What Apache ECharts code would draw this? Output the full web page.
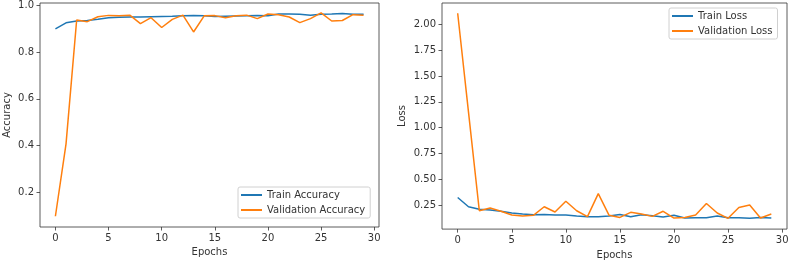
<!DOCTYPE html>
<html>
<head>
<meta charset="utf-8">
<title>Accuracy / Loss</title>
<script src="https://cdn.jsdelivr.net/npm/echarts@6/dist/echarts.min.js"></script>
<style>
  html, body { margin: 0; padding: 0; background: #fff; }
  #chart { width: 792px; height: 265px; }
</style>
</head>
<body>
<div id="chart"></div>
<script>
// epochs 0..29
var epochs = [];
for (var i = 0; i < 30; i++) epochs.push(i);

var trainAcc = [0.899, 0.925, 0.933, 0.935, 0.940, 0.947, 0.949, 0.950, 0.950, 0.951,
                0.952, 0.953, 0.955, 0.957, 0.955, 0.952, 0.953, 0.954, 0.955, 0.956,
                0.955, 0.963, 0.963, 0.962, 0.958, 0.962, 0.963, 0.965, 0.962, 0.962];
var valAcc   = [0.097, 0.407, 0.937, 0.930, 0.951, 0.957, 0.955, 0.958, 0.922, 0.947,
                0.905, 0.940, 0.958, 0.886, 0.955, 0.956, 0.947, 0.955, 0.958, 0.943,
                0.963, 0.960, 0.950, 0.926, 0.943, 0.968, 0.933, 0.935, 0.960, 0.958];
var trainLoss = [0.326, 0.237, 0.212, 0.206, 0.193, 0.176, 0.167, 0.160, 0.163, 0.157,
                 0.157, 0.148, 0.141, 0.141, 0.148, 0.163, 0.141, 0.160, 0.150, 0.138,
                 0.154, 0.128, 0.131, 0.131, 0.147, 0.131, 0.131, 0.125, 0.134, 0.128];
var valLoss   = [2.105, 1.150, 0.198, 0.224, 0.193, 0.157, 0.148, 0.154, 0.237, 0.186,
                 0.290, 0.198, 0.141, 0.364, 0.154, 0.134, 0.183, 0.167, 0.144, 0.193,
                 0.128, 0.134, 0.157, 0.268, 0.176, 0.125, 0.230, 0.253, 0.128, 0.167];

var epochTicks = [0, 5, 10, 15, 20, 25, 30];
var accTicks = [0.2, 0.4, 0.6, 0.8, 1.0];
var lossTicks = [0.25, 0.5, 0.75, 1.0, 1.25, 1.5, 1.75, 2.0];

var BLUE = '#1f77b4', ORANGE = '#ff7f0e', INK = '#333';
var FONT = 'DejaVu Sans';

function pairs(ys) {
    return ys.map(function (y, i) { return [epochs[i], y]; });
}

function xAxisCfg(idx) {
    return {
        type: 'value', gridIndex: idx, min: -1.45, max: 30.45,
        name: 'Epochs', nameLocation: 'middle', nameGap: 20,
        nameTextStyle: { color: INK, fontSize: 10, fontFamily: FONT },
        axisLine: { show: false, onZero: false },
        splitLine: { show: false },
        axisTick: { show: true, inside: false, length: 3.5, customValues: epochTicks,
                    lineStyle: { color: INK, width: 0.8 } },
        axisLabel: { show: true, margin: 6, customValues: epochTicks,
                     color: INK, fontSize: 10, fontFamily: FONT }
    };
}

function yAxisCfg(idx, name, min, max, ticks, fmt, gap) {
    return {
        type: 'value', gridIndex: idx, min: min, max: max,
        name: name, nameLocation: 'middle', nameGap: gap, nameRotate: 90,
        nameTextStyle: { color: INK, fontSize: 10, fontFamily: FONT },
        axisLine: { show: false, onZero: false },
        splitLine: { show: false },
        axisTick: { show: true, inside: false, length: 3.5, customValues: ticks,
                    lineStyle: { color: INK, width: 0.8 } },
        axisLabel: { show: true, margin: 6, customValues: ticks,
                     color: INK, fontSize: 10, fontFamily: FONT,
                     formatter: function (v) { return v.toFixed(fmt); } }
    };
}

function lineSeries(name, idx, data, color) {
    return {
        name: name, type: 'line', xAxisIndex: idx, yAxisIndex: idx,
        data: pairs(data), showSymbol: false, symbol: 'none',
        lineStyle: { color: color, width: 1.5 }, itemStyle: { color: color },
        animation: false
    };
}

var legendBase = {
    orient: 'vertical', icon: 'rect', itemWidth: 21, itemHeight: 2, itemGap: 5,
    backgroundColor: '#fff', borderColor: '#d0d0d0', borderWidth: 1, borderRadius: 2,
    padding: [3, 5, 3, 3],
    textStyle: { color: INK, fontSize: 10, fontFamily: FONT }
};

var chart = echarts.init(document.getElementById('chart'), null, { renderer: 'canvas' });
chart.setOption({
    animation: false,
    grid: [
        { left: 40, right: 413, top: 3, bottom: 38, show: true, borderColor: INK, borderWidth: 0.8, backgroundColor: 'transparent' },
        { left: 442, right: 5, top: 3, bottom: 34, show: true, borderColor: INK, borderWidth: 0.8, backgroundColor: 'transparent' }
    ],
    legend: [
        Object.assign({}, legendBase, { data: ['Train Accuracy', 'Validation Accuracy'], left: 238, top: 187 }),
        Object.assign({}, legendBase, { data: ['Train Loss', 'Validation Loss'], left: 669, top: 8 })
    ],
    xAxis: [xAxisCfg(0), xAxisCfg(1)],
    yAxis: [
        yAxisCfg(0, 'Accuracy', 0.051, 1.01, accTicks, 1, 28),
        yAxisCfg(1, 'Loss', 0.021, 2.204, lossTicks, 2, 35)
    ],
    series: [
        lineSeries('Train Accuracy', 0, trainAcc, BLUE),
        lineSeries('Validation Accuracy', 0, valAcc, ORANGE),
        lineSeries('Train Loss', 1, trainLoss, BLUE),
        lineSeries('Validation Loss', 1, valLoss, ORANGE)
    ]
});
</script>
</body>
</html>
